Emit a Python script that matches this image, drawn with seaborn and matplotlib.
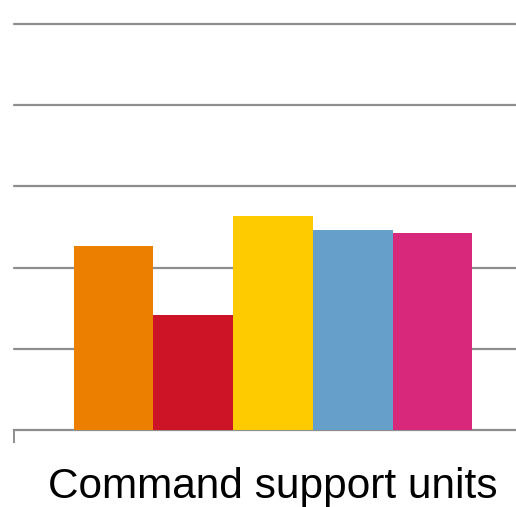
import matplotlib
matplotlib.use("Agg")
import matplotlib.pyplot as plt
import seaborn as sns
import pandas as pd

category = ["Command support units"]
series = ["Series 1", "Series 2", "Series 3", "Series 4", "Series 5"]
values = [11.3, 7.1, 13.2, 12.3, 12.1]
colors = ["#ED7F00", "#CC1426", "#FECA00", "#679FCB", "#D8287B"]

df = pd.DataFrame({"category": category * len(series), "series": series, "value": values})

sns.set_theme(style="white")
plt.rcParams["font.family"] = ["Liberation Sans", "DejaVu Sans"]

fig = plt.figure(figsize=(5.16, 5.07), dpi=100)
ax = fig.add_axes([14 / 516, 77 / 507, 518 / 516, 406 / 507])

sns.barplot(data=df, x="category", y="value", hue="series", palette=colors,
            saturation=1, width=0.8, legend=False, ax=ax, zorder=3,
            linewidth=0, edgecolor="none")

ax.set_xlim(-0.52, 0.52)
ax.set_ylim(0, 25)
ax.set_yticks([5, 10, 15, 20, 25])
ax.yaxis.grid(True, color="#8e8e8e", linewidth=1.6, zorder=0)
for gl in ax.yaxis.get_gridlines():
    gl.set_clip_on(False)
ax.set_axisbelow(True)
ax.tick_params(axis="y", left=False, labelleft=False)
for s in ["top", "right", "left"]:
    ax.spines[s].set_visible(False)
ax.spines["bottom"].set_color("#8e8e8e")
ax.spines["bottom"].set_linewidth(1.6)
ax.set_xlabel("")
ax.set_ylabel("")
ax.set_xticks([-0.52], minor=True)
ax.tick_params(axis="x", which="minor", bottom=True, length=9.5, width=1.4, color="#8e8e8e")
ax.tick_params(axis="x", which="major", bottom=False, labelsize=30.5, pad=20.5, labelcolor="black")

fig.savefig("out.png", dpi=100)
